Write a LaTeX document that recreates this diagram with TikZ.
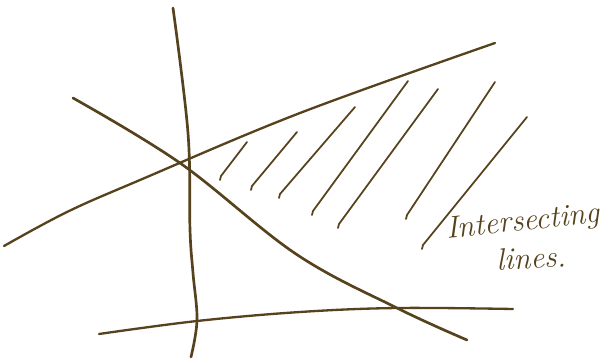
\documentclass[tikz,border=0pt]{standalone}
\usepackage{tikz}
\usetikzlibrary{calc}
\definecolor{ink}{HTML}{56421c}

\begin{document}
\begin{tikzpicture}[
                x=0.05cm, y=-0.05cm,
                line cap=round, line join=round,
                mainline/.style={draw=ink, line width=3.8pt},
                hatchline/.style={draw=ink, line width=2.5pt},
                note/.style={text=ink, font=\fontsize{44}{48}\selectfont\itshape, inner sep=0pt},
                ]

                % ── Canvas ──
                \useasboundingbox (0,0) rectangle (605,363);

                % ── The four lines ──
                % near-vertical line
                \draw[mainline] plot[smooth, tension=0.6] coordinates
                    {(173,8) (188,133) (190,230) (193,273) (197,320) (191,357)};
                % falling line, top left to bottom right
                \draw[mainline] plot[smooth, tension=0.6] coordinates
                    {(73,98) (180,163) (296,254) (397,308) (467,340)};
                % rising line
                \draw[mainline, line width=3.3pt] plot[smooth, tension=0.6] coordinates
                    {(4,246) (67,212) (140,180) (300,113) (495,43)};
                % bottom line
                \draw[mainline, line width=3.3pt] plot[smooth, tension=0.6] coordinates
                    {(99,334) (197,321) (300,312) (397,308) (513,309)};

                % ── Hatching (top x/y, bottom x/y) ──
                \foreach \tx/\ty/\bx/\by in {247/142/220/180, 297/132/251/190,
                                             355/107/279/198, 408/81/312/215,
                                             438/89/338/228, 495/82/406/219,
                                             527/117/422/249} {
                    \draw[hatchline] (\tx,\ty) -- ($(\bx,\by)+(1,-4)$)
                        to[out=240, in=80] (\bx,\by);
                }

                % ── Label ──
                \node[note, rotate=6] (lbl1) at (523,223) {Intersecting};
                \node[note, rotate=3] (lbl2) at (531,258) {lines.};

\end{tikzpicture}
\end{document}
